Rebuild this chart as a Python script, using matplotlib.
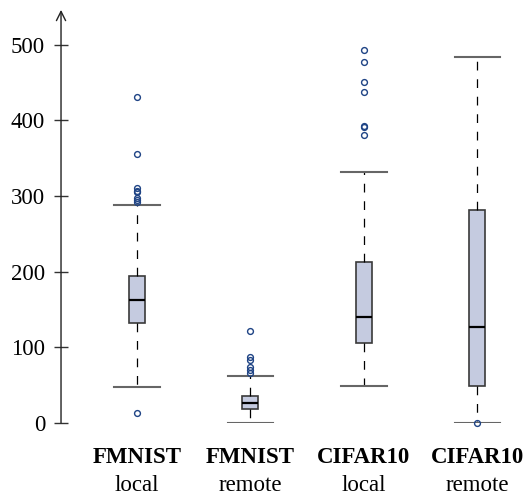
"""Training time per round: local vs remote, FMNIST / CIFAR10 boxplots."""

import matplotlib.pyplot as plt
from matplotlib import rcParams

rcParams.update({
    "font.family": ["Liberation Serif", "DejaVu Serif"],
    "font.size": 16.5,
})

# ---- data ----
datasets = ["FMNIST", "FMNIST", "CIFAR10", "CIFAR10"]
modes = ["local", "remote", "local", "remote"]
whislo = [47, 0, 49, 0]
q1 = [132, 18, 106, 49]
med = [162, 26, 140, 127]
q3 = [194, 36, 213, 282]
whishi = [288, 62, 332, 484]
fliers = [
    [13, 292, 295, 297, 305, 307, 310, 356, 431],
    [66, 70, 74, 83, 87, 121],
    [380, 391, 393, 438, 451, 477, 493],
    [0],
]
yticks = [0, 100, 200, 300, 400, 500]

stats = []
for i in range(len(datasets)):
    stats.append(dict(whislo=whislo[i], q1=q1[i], med=med[i], q3=q3[i],
                      whishi=whishi[i], fliers=fliers[i]))

fig = plt.figure(figsize=(5.32, 4.95), dpi=100)
ax = fig.add_axes([0.1147, 0.1455, 0.857, 0.8345])

ax.bxp(
    stats, positions=[1, 2, 3, 4], widths=0.14, patch_artist=True,
    boxprops=dict(facecolor="#c5cbe0", edgecolor="#3a3a3a", lw=1.2),
    medianprops=dict(color="black", lw=1.6),
    whiskerprops=dict(color="black", lw=0.9, linestyle=(0, (7, 7))),
    capprops=dict(color="#666666", lw=1.5),
    capwidths=0.4,
    flierprops=dict(marker="o", markersize=4.2, markerfacecolor="none",
                    markeredgecolor="#1f4485", markeredgewidth=1.0,
                    clip_on=False),
)

ax.set_xlim(0.33, 4.35)
ax.set_ylim(0, 546)
ax.set_yticks(yticks)
ax.set_xticks([])
for s in ["top", "right", "bottom", "left"]:
    ax.spines[s].set_visible(False)
ax.tick_params(axis="y", direction="inout", length=10, width=1.0,
               color="#333333", pad=6.5)

# y axis with arrow head
ax.annotate("", xy=(0, 1.0), xytext=(0, 0), xycoords="axes fraction",
            arrowprops=dict(arrowstyle="->", color="#222222", lw=1.0,
                            shrinkA=0, shrinkB=0))

# two-line category labels
for i, (d, m) in enumerate(zip(datasets, modes)):
    ax.annotate(d, xy=(i + 1, 0), xycoords=("data", "axes fraction"),
                xytext=(0, -24.5), textcoords="offset points",
                ha="center", va="center", fontweight="bold")
    ax.annotate(m, xy=(i + 1, 0), xycoords=("data", "axes fraction"),
                xytext=(0, -45), textcoords="offset points",
                ha="center", va="center")

plt.savefig("out.png")
plt.close()
